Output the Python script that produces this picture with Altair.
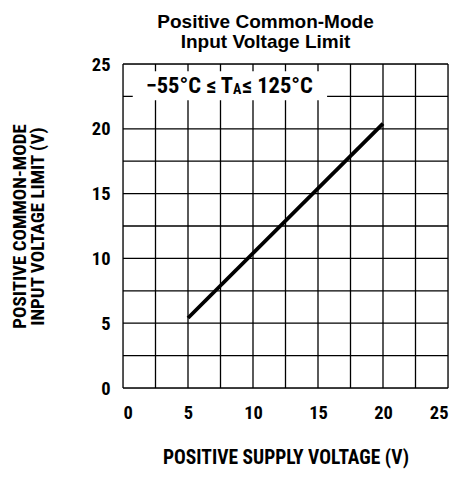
import altair as alt
import pandas as pd

# data
supply_v = [5, 20]
cm_limit_v = [5.4, 20.4]

grid_vals = [0, 2.5, 5, 7.5, 10, 12.5, 15, 17.5, 20, 22.5, 25]
tick_vals = [0, 5, 10, 15, 20, 25]

# annotation box (data units)
box = pd.DataFrame({"x": [0.75], "x2": [15.7], "y": [22.2], "y2": [24.45]})
ann_x = [8.46, 8.46, 9.15]
ann_y = [23.34, 23.03, 23.34]
ann_t = ["\u221255\u00b0C \u2264 T", "A", "\u2264 125\u00b0C"]
ann = pd.DataFrame({"x": ann_x, "y": ann_y, "t": ann_t})

FONT = "Roboto Condensed, DejaVu Sans, sans-serif"

df = pd.DataFrame({"supply": supply_v, "limit": cm_limit_v})
grid = pd.DataFrame({"v": grid_vals})

xs = alt.Scale(domain=[0, 25], nice=False, zero=False)
ys = alt.Scale(domain=[0, 25], nice=False, zero=False)

xaxis = alt.Axis(values=tick_vals, grid=False, domain=False, ticks=False, labelPadding=15,
                 labelFont=FONT, labelFontSize=18.5, labelFontWeight="bold", labelColor="black",
                 title="POSITIVE SUPPLY VOLTAGE (V)", titleFont=FONT, titleFontSize=19.5,
                 titleFontWeight="bold", titleColor="black", titlePadding=27)
yaxis = alt.Axis(values=tick_vals, grid=False, domain=False, ticks=False, labelPadding=13,
                 labelFont=FONT, labelFontSize=18.5, labelFontWeight="bold", labelColor="black",
                 title=["POSITIVE COMMON-MODE", "INPUT VOLTAGE LIMIT (V)"], titleFont=FONT,
                 titleFontSize=19, titleFontWeight="bold", titleColor="black",
                 titleLineHeight=18, titlePadding=44)

vgrid = alt.Chart(grid).mark_rule(color="black", strokeWidth=1.3).encode(
    x=alt.X("v:Q", scale=xs, axis=xaxis))
hgrid = alt.Chart(grid).mark_rule(color="black", strokeWidth=1.3).encode(
    y=alt.Y("v:Q", scale=ys, axis=yaxis))

line = alt.Chart(df).mark_line(color="black", strokeWidth=3.8, strokeCap="butt").encode(
    x=alt.X("supply:Q", scale=xs),
    y=alt.Y("limit:Q", scale=ys),
)

rect = alt.Chart(box).mark_rect(color="white").encode(
    x=alt.X("x:Q", scale=xs), x2="x2", y=alt.Y("y:Q", scale=ys), y2="y2"
)

def txt(i, align, size):
    return alt.Chart(ann.iloc[[i]]).mark_text(
        align=align, baseline="middle", font=FONT, fontSize=size, fontWeight="bold",
        color="black").encode(x=alt.X("x:Q", scale=xs), y=alt.Y("y:Q", scale=ys), text="t:N")

chart = alt.layer(vgrid, hgrid, rect, line, txt(0, "right", 22.5), txt(1, "left", 14),
                  txt(2, "left", 22.5)).properties(
    width=325, height=324,
    title=alt.TitleParams(["Positive Common-Mode", "Input Voltage Limit"],
                          font="Liberation Sans, Arial, sans-serif", fontSize=19,
                          fontWeight="bold", color="black", anchor="middle",
                          dx=-20, offset=3, lineHeight=20),
    autosize=alt.AutoSizeParams(type="none"),
    padding={"left": 115, "top": 56, "right": 5, "bottom": 81},
).configure_view(stroke="black", strokeWidth=2.2).configure(background="white")

chart.save("out.html", embed_options={"renderer": "svg", "actions": False})
